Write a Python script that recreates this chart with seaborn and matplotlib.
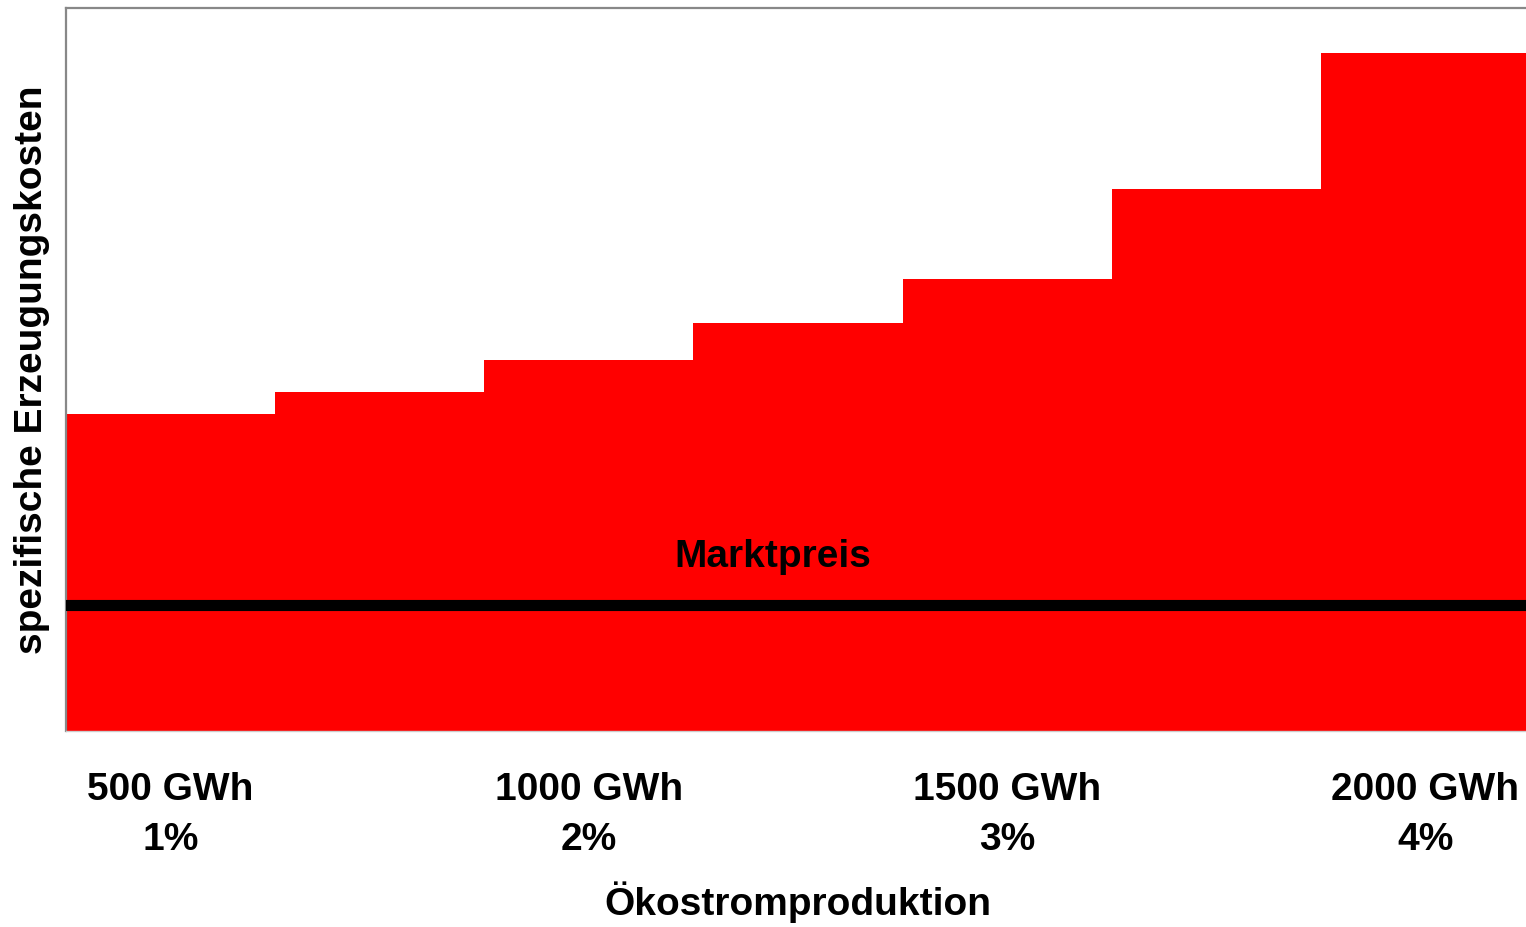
import matplotlib
matplotlib.use("Agg")
import matplotlib.pyplot as plt
import pandas as pd
import seaborn as sns

# Stufen der spezifischen Erzeugungskosten (relative Einheiten)
steps = [1, 2, 3, 4, 5, 6, 7]
costs = [317, 339, 371, 408, 452, 542, 678]
market_price = 126.5
y_top = 723

tick_steps = [1, 3, 5, 7]
tick_labels = ["500 GWh\n1%", "1000 GWh\n2%", "1500 GWh\n3%", "2000 GWh\n4%"]

sns.set_style("white")
plt.rcParams["font.family"] = ["Liberation Sans", "DejaVu Sans"]
plt.rcParams["font.weight"] = "bold"
plt.rcParams["text.color"] = "black"
plt.rcParams["axes.labelcolor"] = "black"
plt.rcParams["xtick.color"] = "black"

df = pd.DataFrame({"step": steps, "cost": costs})

fig = plt.figure(figsize=(15.26, 9.27), dpi=100)
W, H = 1526, 927
ax = fig.add_axes([66 / W, (H - 731) / H, 1464 / W, 723 / H])

sns.barplot(data=df, x="step", y="cost", color="#ff0000", saturation=1,
            width=1.0, linewidth=0, edgecolor="none", ax=ax)

ax.axhline(market_price, color="black", lw=8, zorder=5)
ax.text(2.88, market_price + 37.5, "Marktpreis", ha="center", va="baseline",
        fontsize=28, fontweight="bold", color="black", zorder=6)

ax.set_xlim(-0.5, len(steps) - 0.5)
ax.set_ylim(0, y_top)

ax.set_xticks([steps.index(s) for s in tick_steps])
ax.set_xticklabels(tick_labels, fontsize=28, fontweight="bold", linespacing=1.5)
ax.tick_params(axis="x", length=0, pad=29.5, labelcolor="black")
ax.set_yticks([])

ax.set_xlabel("Ökostromproduktion", fontsize=28, fontweight="bold", color="black")
ax.xaxis.label.set_va("baseline")
ax.xaxis.set_label_coords(0.5, -(915 - 731) / 723)
ax.set_ylabel("spezifische Erzeugungskosten", fontsize=28, fontweight="bold", color="black")
ax.yaxis.set_label_coords(-0.011, 0.5)

for side in ["left", "top"]:
    ax.spines[side].set_color("#888888")
    ax.spines[side].set_linewidth(1.6)
ax.spines["bottom"].set_color("#cccccc")
ax.spines["bottom"].set_linewidth(1)
ax.spines["right"].set_visible(False)

fig.savefig("out.png", dpi=100)
